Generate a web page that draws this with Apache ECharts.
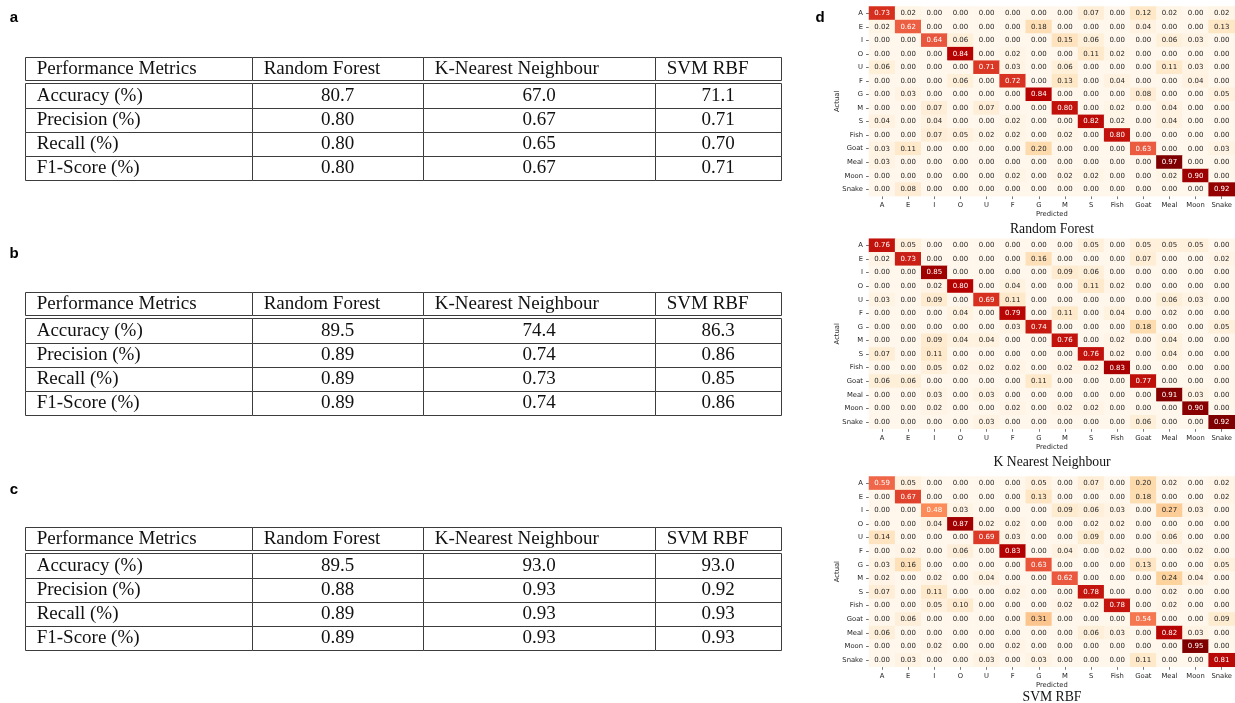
<!DOCTYPE html>
<html><head><meta charset="utf-8">
<script src="https://cdn.jsdelivr.net/npm/echarts@6/dist/echarts.min.js"></script>
<style>html,body{margin:0;padding:0;background:#fff}#chart{width:1235px;height:703px}</style>
</head><body><div id="chart"></div>
<script>
// ---------- data ----------
const tableHeader = ['Performance Metrics', 'Random Forest', 'K-Nearest Neighbour', 'SVM RBF'];
const metricNames = ['Accuracy (%)', 'Precision (%)', 'Recall (%)', 'F1-Score (%)'];

const tableA_RF  = [80.7, 0.80, 0.80, 0.80];
const tableA_KNN = [67.0, 0.67, 0.65, 0.67];
const tableA_SVM = [71.1, 0.71, 0.70, 0.71];

const tableB_RF  = [89.5, 0.89, 0.89, 0.89];
const tableB_KNN = [74.4, 0.74, 0.73, 0.74];
const tableB_SVM = [86.3, 0.86, 0.85, 0.86];

const tableC_RF  = [89.5, 0.88, 0.89, 0.89];
const tableC_KNN = [93.0, 0.93, 0.93, 0.93];
const tableC_SVM = [93.0, 0.92, 0.93, 0.93];

const classes = ['A', 'E', 'I', 'O', 'U', 'F', 'G', 'M', 'S', 'Fish', 'Goat', 'Meal', 'Moon', 'Snake'];

const cmRF = [
  [0.73,0.02,0,0,0,0,0,0,0.07,0,0.12,0.02,0,0.02],
  [0.02,0.62,0,0,0,0,0.18,0,0,0,0.04,0,0,0.13],
  [0,0,0.64,0.06,0,0,0,0.15,0.06,0,0,0.06,0.03,0],
  [0,0,0,0.84,0,0.02,0,0,0.11,0.02,0,0,0,0],
  [0.06,0,0,0,0.71,0.03,0,0.06,0,0,0,0.11,0.03,0],
  [0,0,0,0.06,0,0.72,0,0.13,0,0.04,0,0,0.04,0],
  [0,0.03,0,0,0,0,0.84,0,0,0,0.08,0,0,0.05],
  [0,0,0.07,0,0.07,0,0,0.80,0,0.02,0,0.04,0,0],
  [0.04,0,0.04,0,0,0.02,0,0,0.82,0.02,0,0.04,0,0],
  [0,0,0.07,0.05,0.02,0.02,0,0.02,0,0.80,0,0,0,0],
  [0.03,0.11,0,0,0,0,0.20,0,0,0,0.63,0,0,0.03],
  [0.03,0,0,0,0,0,0,0,0,0,0,0.97,0,0],
  [0,0,0,0,0,0.02,0,0.02,0.02,0,0,0.02,0.90,0],
  [0,0.08,0,0,0,0,0,0,0,0,0,0,0,0.92]
];
const cmKNN = [
  [0.76,0.05,0,0,0,0,0,0,0.05,0,0.05,0.05,0.05,0],
  [0.02,0.73,0,0,0,0,0.16,0,0,0,0.07,0,0,0.02],
  [0,0,0.85,0,0,0,0,0.09,0.06,0,0,0,0,0],
  [0,0,0.02,0.80,0,0.04,0,0,0.11,0.02,0,0,0,0],
  [0.03,0,0.09,0,0.69,0.11,0,0,0,0,0,0.06,0.03,0],
  [0,0,0,0.04,0,0.79,0,0.11,0,0.04,0,0.02,0,0],
  [0,0,0,0,0,0.03,0.74,0,0,0,0.18,0,0,0.05],
  [0,0,0.09,0.04,0.04,0,0,0.76,0,0.02,0,0.04,0,0],
  [0.07,0,0.11,0,0,0,0,0,0.76,0.02,0,0.04,0,0],
  [0,0,0.05,0.02,0.02,0.02,0,0.02,0.02,0.83,0,0,0,0],
  [0.06,0.06,0,0,0,0,0.11,0,0,0,0.77,0,0,0],
  [0,0,0.03,0,0.03,0,0,0,0,0,0,0.91,0.03,0],
  [0,0,0.02,0,0,0.02,0,0.02,0.02,0,0,0,0.90,0],
  [0,0,0,0,0.03,0,0,0,0,0,0.06,0,0,0.92]
];
const cmSVM = [
  [0.59,0.05,0,0,0,0,0.05,0,0.07,0,0.20,0.02,0,0.02],
  [0,0.67,0,0,0,0,0.13,0,0,0,0.18,0,0,0.02],
  [0,0,0.48,0.03,0,0,0,0.09,0.06,0.03,0,0.27,0.03,0],
  [0,0,0.04,0.87,0.02,0.02,0,0,0.02,0.02,0,0,0,0],
  [0.14,0,0,0,0.69,0.03,0,0,0.09,0,0,0.06,0,0],
  [0,0.02,0,0.06,0,0.83,0,0.04,0,0.02,0,0,0.02,0],
  [0.03,0.16,0,0,0,0,0.63,0,0,0,0.13,0,0,0.05],
  [0.02,0,0.02,0,0.04,0,0,0.62,0,0,0,0.24,0.04,0],
  [0.07,0,0.11,0,0,0.02,0,0,0.78,0,0,0.02,0,0],
  [0,0,0.05,0.10,0,0,0,0.02,0.02,0.78,0,0.02,0,0],
  [0,0.06,0,0,0,0,0.31,0,0,0,0.54,0,0,0.09],
  [0.06,0,0,0,0,0,0,0,0.06,0.03,0,0.82,0.03,0],
  [0,0,0.02,0,0,0.02,0,0,0,0,0,0,0.95,0],
  [0,0.03,0,0,0.03,0,0.03,0,0,0,0.11,0,0,0.81]
];
const cmTitles = ['Random Forest', 'K Nearest Neighbour', 'SVM RBF'];
const panelLabels = ['a', 'b', 'c', 'd'];

// ---------- layout ----------
const tableTops = [56.7, 291.7, 526.7];
const colEdges = [0, 227, 398, 630, 756];
const headerEdges = [0, 23.3];
const bodyEdges = [26.6, 51.3, 75, 99, 123.3];
const hmGrids = [
  {left: 869, top: 6.5, width: 367, height: 189.6, titleY: 229},
  {left: 869, top: 238.7, width: 367, height: 190.1, titleY: 462},
  {left: 869, top: 476.5, width: 367, height: 190.3, titleY: 697}
];
const OrRd = ['#fff7ec','#fee8c8','#fdd49e','#fdbb84','#fc8d59','#ef6548','#d7301f','#b30000','#7f0000'];
const serif = '"Liberation Serif", "Times New Roman", serif';
const sans = '"DejaVu Sans", sans-serif';

// ---------- build ----------
const tables = [
  [tableA_RF, tableA_KNN, tableA_SVM],
  [tableB_RF, tableB_KNN, tableB_SVM],
  [tableC_RF, tableC_KNN, tableC_SVM]
];
const matrices = [cmRF, cmKNN, cmSVM];

const grids = [], xAxes = [], yAxes = [], series = [], visualMaps = [];

function buildCells(cols) {
  const cells = [];
  tableHeader.forEach((h, c) => cells.push({col: c, row: 0, text: h, align: 'left'}));
  metricNames.forEach((m, r) => {
    cells.push({col: 0, row: r + 1, text: m, align: 'left'});
    cols.forEach((vals, ci) => {
      const v = vals[r];
      cells.push({col: ci + 1, row: r + 1, text: r === 0 ? v.toFixed(1) : v.toFixed(2), align: 'center'});
    });
  });
  return cells;
}

tables.forEach((cols, ti) => {
  grids.push({left: 25, top: tableTops[ti], width: 756, height: 123.3});
  xAxes.push({type: 'value', gridIndex: ti, min: 0, max: 756, show: false});
  yAxes.push({type: 'value', gridIndex: ti, min: 0, max: 123.3, inverse: true, show: false});
  const cells = buildCells(cols);
  series.push({
    type: 'custom',
    xAxisIndex: ti, yAxisIndex: ti,
    clip: false,
    silent: true,
    data: cells.map(c => [c.col, c.row]),
    renderItem: function (params, api) {
      const cell = cells[params.dataIndex];
      const x0 = colEdges[cell.col], x1 = colEdges[cell.col + 1];
      let y0, y1;
      if (cell.row === 0) { y0 = headerEdges[0]; y1 = headerEdges[1]; }
      else { y0 = bodyEdges[cell.row - 1]; y1 = bodyEdges[cell.row]; }
      const p0 = api.coord([x0, y0]);
      const p1 = api.coord([x1, y1]);
      const rx = Math.round(p0[0]) + 0.5, ry = Math.round(p0[1]) + 0.5;
      const rw = Math.round(p1[0]) - Math.round(p0[0]);
      const rh = Math.round(p1[1]) - Math.round(p0[1]);
      const tx = cell.align === 'left' ? p0[0] + 11.7 : (p0[0] + p1[0]) / 2;
      const ty = (p0[1] + p1[1]) / 2 + 0.5;
      return {
        type: 'group',
        children: [
          {type: 'rect', shape: {x: rx, y: ry, width: rw, height: rh},
           style: {fill: '#fff', stroke: '#3c3c3c', lineWidth: 1}},
          {type: 'text', style: {x: tx, y: ty, text: cell.text, align: cell.align,
           verticalAlign: 'middle', fontFamily: serif, fontSize: 19, fill: '#111'}}
        ]
      };
    }
  });
});

matrices.forEach((m, mi) => {
  const gi = 3 + mi;
  const g = hmGrids[mi];
  grids.push({left: g.left, top: g.top, width: g.width, height: g.height});
  const maxV = Math.max(...m.flat());
  xAxes.push({
    type: 'category', gridIndex: gi, data: classes,
    axisLine: {show: false},
    axisTick: {show: true, alignWithLabel: true, length: 3, lineStyle: {color: '#555', width: 0.8}},
    axisLabel: {interval: 0, fontSize: 6.8, fontFamily: sans, color: '#262626', margin: 6},
    splitLine: {show: false},
    name: 'Predicted', nameLocation: 'middle', nameGap: 15, nameMoveOverlap: false,
    nameTextStyle: {fontSize: 6.8, fontFamily: sans, color: '#262626'}
  });
  yAxes.push({
    type: 'category', gridIndex: gi, data: classes, inverse: true,
    axisLine: {show: false},
    axisTick: {show: true, alignWithLabel: true, length: 3, lineStyle: {color: '#555', width: 0.8}},
    axisLabel: {interval: 0, fontSize: 6.8, fontFamily: sans, color: '#262626', margin: 6},
    splitLine: {show: false},
    name: 'Actual', nameLocation: 'middle', nameGap: 28, nameRotate: 90, nameMoveOverlap: false,
    nameTextStyle: {fontSize: 6.8, fontFamily: sans, color: '#262626'}
  });
  const data = [];
  m.forEach((row, r) => row.forEach((v, c) => {
    data.push({value: [c, r, v], label: {color: v / maxV > 0.45 ? '#ffffff' : '#262626'}});
  }));
  series.push({
    type: 'heatmap', xAxisIndex: gi, yAxisIndex: gi, data: data,
    silent: true,
    label: {show: true, fontSize: 7, fontFamily: sans,
            formatter: p => p.value[2].toFixed(2)},
    itemStyle: {borderWidth: 0}
  });
  visualMaps.push({
    type: 'continuous', show: false, seriesIndex: series.length - 1,
    min: 0, max: maxV, dimension: 2, inRange: {color: OrRd}
  });
});

const graphics = [];
cmTitles.forEach((t, i) => graphics.push({
  type: 'text', x: 1052, y: hmGrids[i].titleY, silent: true,
  style: {text: t, align: 'center', verticalAlign: 'middle', fontFamily: serif, fontSize: 13.7, fill: '#111'}
}));
const panelPos = [[14, 18], [14, 254], [14, 490], [820, 18]];
panelLabels.forEach((l, i) => graphics.push({
  type: 'text', x: panelPos[i][0], y: panelPos[i][1], silent: true,
  style: {text: l, align: 'center', verticalAlign: 'middle', fontFamily: '"Liberation Sans", Arial, sans-serif',
          fontWeight: 'bold', fontSize: 15, fill: '#000'}
}));

const chart = echarts.init(document.getElementById('chart'), null, {renderer: 'canvas'});
chart.setOption({
  backgroundColor: '#fff',
  animation: false,
  grid: grids, xAxis: xAxes, yAxis: yAxes,
  visualMap: visualMaps,
  series: series,
  graphic: graphics
});
</script></body></html>
